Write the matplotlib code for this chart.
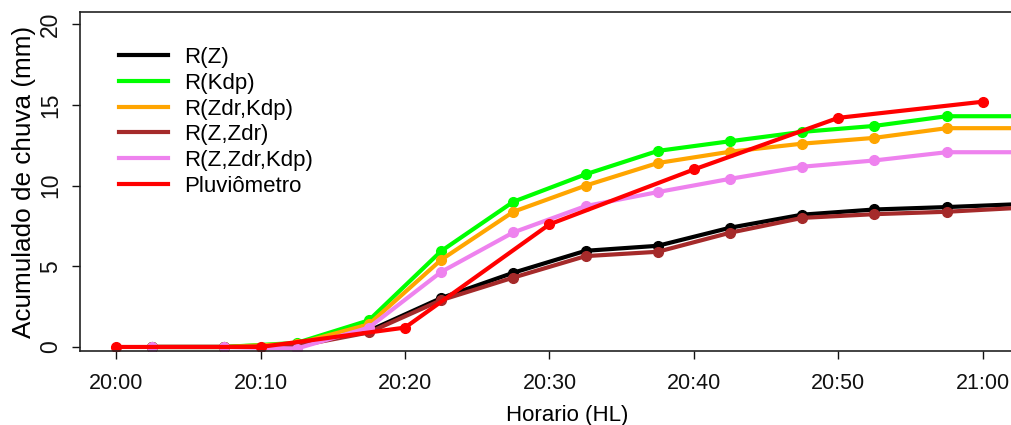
import matplotlib
matplotlib.use("Agg")
import matplotlib.pyplot as plt

plt.rcParams['font.family'] = ['Liberation Sans', 'DejaVu Sans']

# minutes after 20:00
t_radar = [2.5, 7.5, 12.5, 17.5, 22.5, 27.5, 32.5, 37.5, 42.5, 47.5, 52.5, 57.5, 62.5]
r_z = [0.0, 0.0, 0.1, 1.0, 3.03, 4.6, 5.96, 6.27, 7.39, 8.2, 8.52, 8.67, 8.85]
r_kdp = [0.0, 0.0, 0.25, 1.65, 5.94, 9.0, 10.7, 12.15, 12.75, 13.33, 13.7, 14.3, 14.3]
r_zdr_kdp = [0.0, 0.0, 0.2, 1.4, 5.4, 8.38, 10.0, 11.4, 12.1, 12.6, 12.96, 13.56, 13.56]
r_z_zdr = [0.0, 0.0, 0.05, 0.9, 2.9, 4.3, 5.63, 5.9, 7.08, 8.0, 8.23, 8.38, 8.62]
r_z_zdr_kdp = [0.0, 0.0, -0.1, 1.2, 4.65, 7.1, 8.73, 9.6, 10.42, 11.17, 11.56, 12.07, 12.07]

t_gauge = [0, 10, 20, 30, 40, 50, 60]
pluviometro = [0.0, 0.0, 1.2, 7.6, 11.0, 14.2, 15.2]

series = [
    ("R(Z)", t_radar, r_z, "#000000"),
    ("R(Kdp)", t_radar, r_kdp, "#00FF00"),
    ("R(Zdr,Kdp)", t_radar, r_zdr_kdp, "#FFA500"),
    ("R(Z,Zdr)", t_radar, r_z_zdr, "#A52A2A"),
    ("R(Z,Zdr,Kdp)", t_radar, r_z_zdr_kdp, "#EE82EE"),
    ("Pluviômetro", t_gauge, pluviometro, "#FF0000"),
]

x_ticks = [0, 10, 20, 30, 40, 50, 60]
x_labels = ["20:00", "20:10", "20:20", "20:30", "20:40", "20:50", "21:00"]
y_ticks = [0, 5, 10, 15, 20]

W, H = 1012, 425
fig = plt.figure(figsize=(W / 100, H / 100), dpi=100)
left, right, top, bottom = 80, 1055, 12, 351
ax = fig.add_axes([left / W, (H - bottom) / H, (right - left) / W, (bottom - top) / H])

for name, t, v, c in series:
    ax.plot(t, v, color=c, lw=3, marker='o', ms=7, label=name,
            solid_joinstyle='round', solid_capstyle='round')

ax.set_xlim(-2.5, 65)
ax.set_ylim(-0.25, 20.76)
ax.set_xticks(x_ticks)
ax.set_xticklabels(x_labels)
ax.set_yticks(y_ticks)
ax.set_yticklabels([str(v) for v in y_ticks], rotation=90, va='center')
ax.tick_params(axis='both', direction='out', length=6, width=1, colors='#111111')
ax.tick_params(axis='x', pad=10, labelsize=15.5)
ax.tick_params(axis='y', pad=7, labelsize=16.5)
for s in ax.spines.values():
    s.set_linewidth(1.2)
    s.set_color('#222222')

ax.set_xlabel("Horario (HL)", fontsize=16, labelpad=8)
ax.set_ylabel("Acumulado de chuva (mm)", fontsize=18.8, labelpad=2)

handles = [plt.Line2D([], [], color=c, lw=3) for _, _, _, c in series]
ax.legend(handles, [s[0] for s in series], loc='upper left', bbox_to_anchor=(0.02, 0.955),
          frameon=False, fontsize=16, handlelength=2.2, labelspacing=0.21, handletextpad=0.7)

fig.savefig("out.png", dpi=100)
